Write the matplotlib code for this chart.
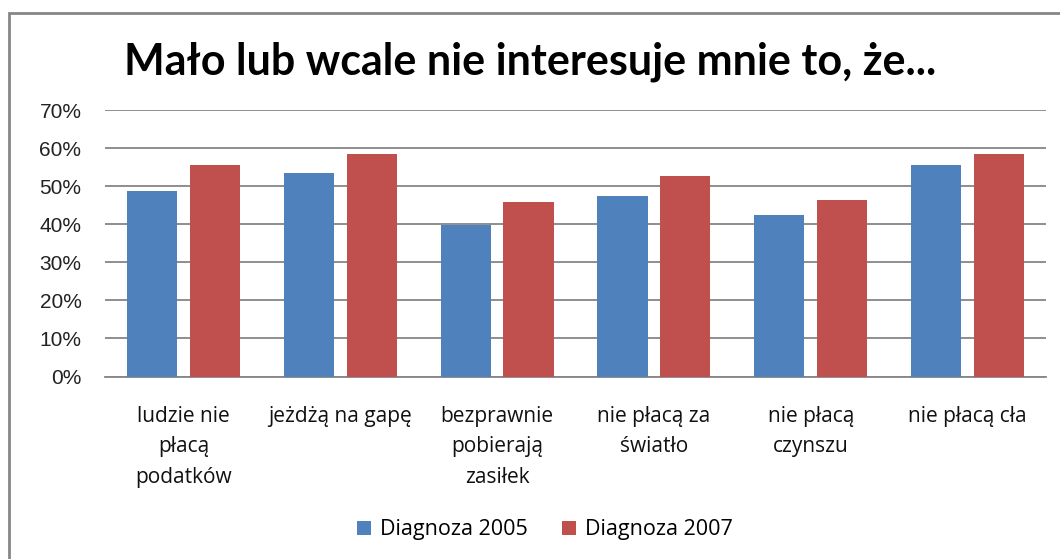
import matplotlib.pyplot as plt
import matplotlib.patches as mpatches
import numpy as np

categories = ["ludzie nie\npłacą\npodatków", "jeżdżą na gapę", "bezprawnie\npobierają\nzasiłek",
              "nie płacą za\nświatło", "nie płacą\nczynszu", "nie płacą cła"]
diag_2005 = [0.488, 0.535, 0.399, 0.474, 0.424, 0.556]
diag_2007 = [0.556, 0.585, 0.459, 0.527, 0.464, 0.585]
series_names = ["Diagnoza 2005", "Diagnoza 2007"]
yticks = [0, 0.1, 0.2, 0.3, 0.4, 0.5, 0.6, 0.7]

blue = "#4f81bd"
red = "#c0504d"

fig = plt.figure(figsize=(10.6, 5.59), dpi=100)
W, H = 1060, 559
ax = fig.add_axes([105 / W, 1 - 376.5 / H, 941 / W, 266.5 / H])

# chart border (only top/left visible in the crop)
fig.patches.append(mpatches.Rectangle((9 / W, -0.05), 1.1, 1 - 13 / H + 0.05,
                                      transform=fig.transFigure, fill=False,
                                      edgecolor="#868686", linewidth=2))

x = np.arange(len(categories))
w = 0.32
ax.bar(x - 0.2, diag_2005, w, color=blue, label=series_names[0], zorder=3)
ax.bar(x + 0.2, diag_2007, w, color=red, label=series_names[1], zorder=3)

ax.set_xlim(-0.5, len(categories) - 0.5)
ax.set_ylim(0, 0.7)
ax.set_yticks(yticks)
ax.set_yticklabels([f"{int(round(t * 100))}%" for t in yticks],
                   fontfamily="Liberation Sans", fontsize=15, color="#222222")
ax.yaxis.grid(True, color="#868686", linewidth=1.3, zorder=0)
ax.tick_params(axis="y", length=0, pad=17)
ax.tick_params(axis="x", length=0)
for s in ["top", "right", "left"]:
    ax.spines[s].set_visible(False)
ax.spines["bottom"].set_color("#868686")
ax.spines["bottom"].set_linewidth(1.3)

ax.set_xticks(x)
ax.set_xticklabels(categories, fontfamily="Open Sans", fontsize=15,
                   linespacing=1.6, color="#111111", va="top")
ax.tick_params(axis="x", pad=21)

fig.text(0.5, 1 - 62 / H, "Mało lub wcale nie interesuje mnie to, że...",
         ha="center", va="center", fontfamily="Lato", fontweight="bold",
         fontsize=31, color="black")

fig.legend(loc="center", bbox_to_anchor=(545 / W, 1 - 530 / H), ncol=2,
           frameon=False, prop={"family": "Open Sans", "size": 15.5},
           handlelength=0.65, handleheight=0.65, handletextpad=0.4,
           columnspacing=1.6)

fig.savefig("out.png", dpi=100)
